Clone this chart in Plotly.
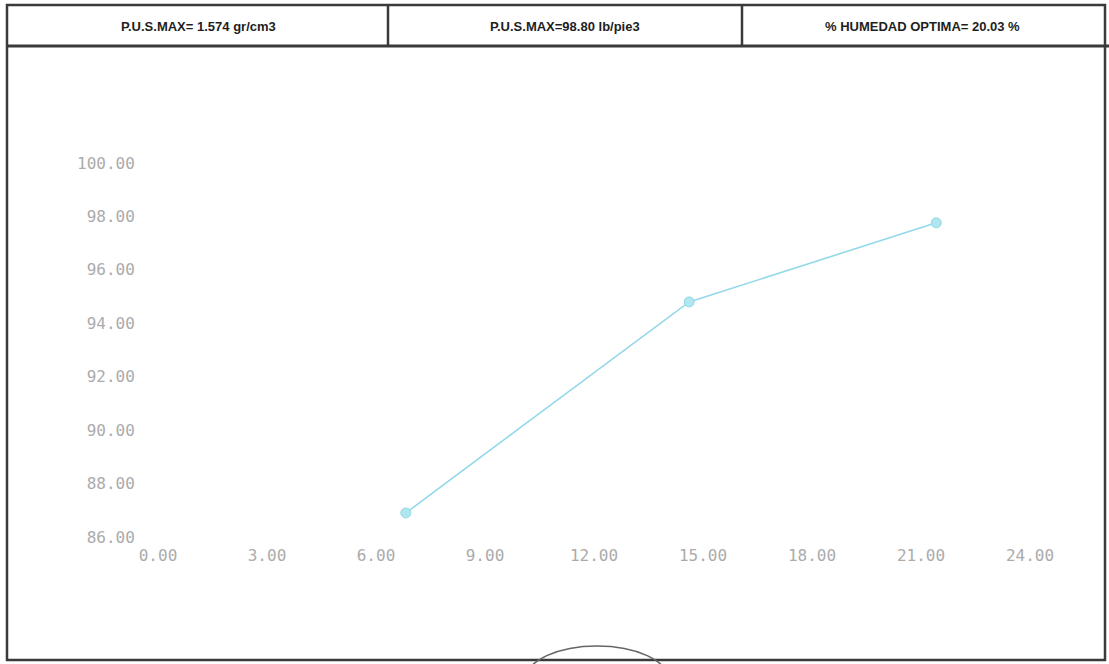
import plotly.graph_objects as go

# Compaction test: moisture content (%) vs dry unit weight (lb/ft3)
humedad = [6.82, 14.62, 21.42]
peso_seco = [86.90, 94.80, 97.76]

x_ticks = [0, 3, 6, 9, 12, 15, 18, 21, 24]
y_ticks = [86, 88, 90, 92, 94, 96, 98, 100]

header_texts = [
    "P.U.S.MAX= 1.574 gr/cm3",
    "P.U.S.MAX=98.80 lb/pie3",
    "% HUMEDAD OPTIMA= 20.03 %",
]

W, H = 1109, 664


def px(x):
    return x / W


def py(y):
    return 1 - y / H


fig = go.Figure()
fig.add_trace(go.Scatter(
    x=humedad, y=peso_seco,
    mode="lines+markers",
    line=dict(color="#93d9e9", width=1.6),
    marker=dict(size=10, color="#b0e6f0", line=dict(color="#93d9e9", width=1)),
    showlegend=False,
))

border = "#3a3a3a"
shapes = [
    # outer frame
    dict(type="rect", xref="paper", yref="paper",
         x0=px(7), x1=px(1105), y0=py(660), y1=py(5),
         line=dict(color=border, width=2.5)),
    # header row bottom
    dict(type="line", xref="paper", yref="paper",
         x0=px(7), x1=px(1109), y0=py(46), y1=py(46),
         line=dict(color=border, width=3)),
    # header column dividers
    dict(type="line", xref="paper", yref="paper",
         x0=px(388), x1=px(388), y0=py(5), y1=py(46),
         line=dict(color=border, width=2.5)),
    dict(type="line", xref="paper", yref="paper",
         x0=px(742), x1=px(742), y0=py(5), y1=py(46),
         line=dict(color=border, width=2.5)),
    # hand-drawn ring at the bottom
    dict(type="circle", xref="paper", yref="paper",
         x0=px(526), x1=px(668), y0=py(712), y1=py(646),
         line=dict(color="#666666", width=1.5)),
]

header_centers = [198, 565, 922]
annotations = [
    dict(text=t, x=px(cx), y=py(26), xref="paper", yref="paper",
         showarrow=False, xanchor="center", yanchor="middle",
         font=dict(family="Liberation Sans, Arial, sans-serif",
                   size=13, color="#1e1e1e", weight="bold"))
    for t, cx in zip(header_texts, header_centers)
]

tick_font = dict(family="DejaVu Sans Mono, Liberation Mono, monospace",
                 size=16, color="#ababab")

fig.update_layout(
    width=W, height=H,
    margin=dict(l=0, r=0, t=0, b=0, autoexpand=False),
    paper_bgcolor="white", plot_bgcolor="white",
    shapes=shapes, annotations=annotations,
    xaxis=dict(
        domain=[px(158), px(1030)], range=[0, 24],
        tickvals=x_ticks, ticktext=[f"{v:.2f}" for v in x_ticks],
        showgrid=False, zeroline=False, showline=False, automargin=False,
        ticks="outside", ticklen=4, tickcolor="rgba(0,0,0,0)",
        tickfont=tick_font, anchor="y",
    ),
    yaxis=dict(
        domain=[py(537), py(163)], range=[86, 100],
        tickvals=y_ticks, ticktext=[f"{v:.2f}" for v in y_ticks],
        showgrid=False, zeroline=False, showline=False, automargin=False,
        ticks="outside", ticklen=19, tickcolor="rgba(0,0,0,0)",
        tickfont=tick_font, anchor="x",
    ),
)

fig.write_html("out.html")
